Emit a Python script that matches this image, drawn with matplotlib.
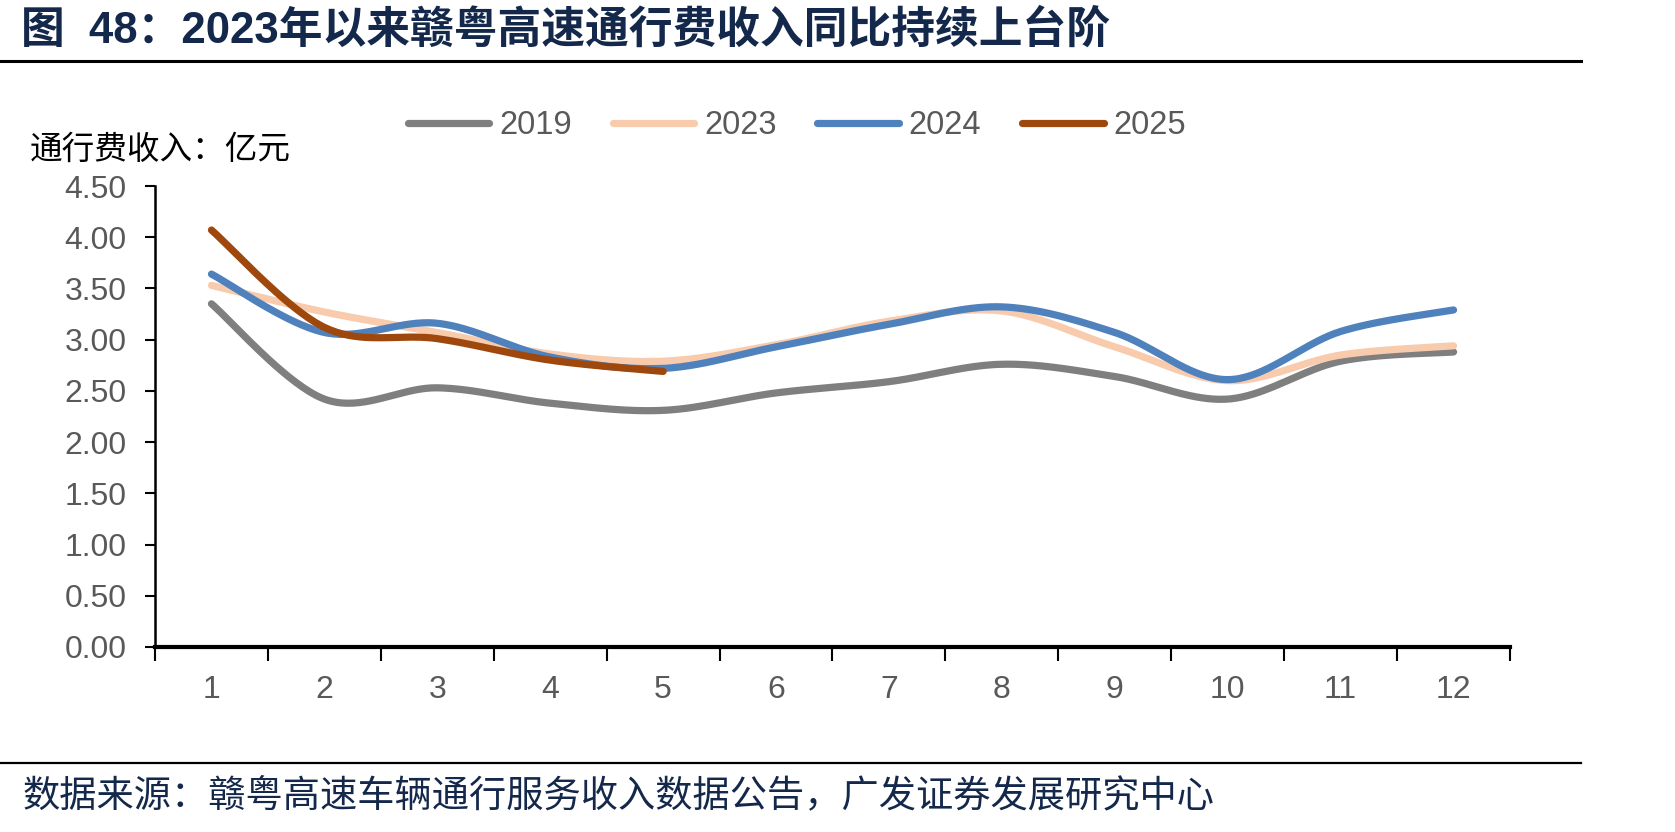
import numpy as np
import matplotlib
matplotlib.use("Agg")
import matplotlib.pyplot as plt
from matplotlib.lines import Line2D

plt.rcParams['font.family'] = ['Liberation Sans', 'Noto Sans CJK SC', 'DejaVu Sans']

months = [1, 2, 3, 4, 5, 6, 7, 8, 9, 10, 11, 12]
month_labels = ["1", "2", "3", "4", "5", "6", "7", "8", "9", "10", "11", "12"]
s2019 = [3.35, 2.42, 2.53, 2.38, 2.31, 2.48, 2.59, 2.76, 2.64, 2.42, 2.79, 2.88]
s2023 = [3.53, 3.27, 3.07, 2.86, 2.79, 2.95, 3.18, 3.28, 2.93, 2.60, 2.85, 2.94]
s2024 = [3.64, 3.07, 3.16, 2.83, 2.72, 2.93, 3.15, 3.32, 3.07, 2.61, 3.08, 3.29]
s2025 = [4.07, 3.12, 3.01, 2.80, 2.69]
series_names = ["2019", "2023", "2024", "2025"]
series_vals = [s2019, s2023, s2024, s2025]
colors = ["#7F7F7F", "#F8CBAD", "#4F81BD", "#9E480E"]
yticks = [0.0, 0.5, 1.0, 1.5, 2.0, 2.5, 3.0, 3.5, 4.0, 4.5]

title = "图  48：2023年以来赣粤高速通行费收入同比持续上台阶"
ylabel = "通行费收入：亿元"
source = "数据来源：赣粤高速车辆通行服务收入数据公告，广发证券发展研究中心"


def smooth(x, y, n=40):
    x = np.asarray(x, float)
    y = np.asarray(y, float)
    P = np.column_stack([x, y])
    if len(P) < 3:
        return x, y
    ext = np.vstack([P[0], P, P[-1]])
    out = []
    t = np.linspace(0, 1, n)
    for i in range(1, len(ext) - 2):
        p0, p1, p2, p3 = ext[i - 1], ext[i], ext[i + 1], ext[i + 2]
        c1 = p1 + (p2 - p0) / 6.0
        c2 = p2 - (p3 - p1) / 6.0
        seg = ((1 - t) ** 3)[:, None] * p1 + (3 * (1 - t) ** 2 * t)[:, None] * c1 \
            + (3 * (1 - t) * t ** 2)[:, None] * c2 + (t ** 3)[:, None] * p2
        out.append(seg if i == 1 else seg[1:])
    out = np.vstack(out)
    return out[:, 0], out[:, 1]


W, H = 1675, 832
fig = plt.figure(figsize=(W / 100, H / 100), dpi=100)
ax = fig.add_axes([155 / W, 1 - 647 / H, (1510 - 155) / W, (647 - 186) / H])

lw = 5.2
for name, vals, c in zip(series_names, series_vals, colors):
    xs, ys = smooth(months[:len(vals)], vals)
    ax.plot(xs, ys, color=c, lw=lw, solid_capstyle='round', solid_joinstyle='round')

ax.set_xlim(0.5, 12.5)
ax.set_ylim(0, 4.5)
ax.set_yticks(yticks)
ax.set_yticklabels([f"{v:.2f}" for v in yticks])
ax.set_xticks(np.arange(0.5, 13.0, 1.0))
ax.set_xticklabels([])
ax.set_xticks(months, minor=True)
ax.set_xticklabels(month_labels, minor=True)
ax.tick_params(axis='x', which='major', length=10, width=1.5, color='black', direction='out')
ax.tick_params(axis='x', which='minor', length=0, pad=20, labelsize=23, labelcolor='#595959')
ax.tick_params(axis='y', which='major', length=7, width=1.5, color='black', direction='out',
               pad=13.5, labelsize=23, labelcolor='#595959')
for s in ['top', 'right']:
    ax.spines[s].set_visible(False)
ax.spines['left'].set_linewidth(1.8)
ax.spines['bottom'].set_linewidth(3.0)

handles = [Line2D([], [], color=c, lw=lw, solid_capstyle='round') for c in colors]
fig.legend(handles, series_names, loc='center', bbox_to_anchor=(797 / W, 1 - 126 / H), ncol=4,
           frameon=False, fontsize=23.5, handlelength=2.5, handletextpad=0.3, columnspacing=1.25,
           labelcolor='#595959')

fig.text(30 / W, 1 - 150 / H, ylabel, fontsize=23.5, color='black', va='center', ha='left',
         family=['Noto Sans CJK SC', 'DejaVu Sans'])
fig.text(21 / W, 1 - 30 / H, title, fontsize=31.5, fontweight='bold', color='#14284B',
         va='center', ha='left', family=['Liberation Sans', 'Noto Sans CJK SC'])
fig.text(23 / W, 1 - 796 / H, source, fontsize=26.8, color='#14284B', va='center', ha='left',
         family=['Noto Sans CJK SC', 'DejaVu Sans'])

fig.add_artist(Line2D([0, 1581 / W], [1 - 61 / H, 1 - 61 / H], color='black', lw=2.2,
                      transform=fig.transFigure))
fig.add_artist(Line2D([0, 1581 / W], [1 - 763 / H, 1 - 763 / H], color='black', lw=1.6,
                      transform=fig.transFigure))

fig.savefig("out.png", dpi=100)
